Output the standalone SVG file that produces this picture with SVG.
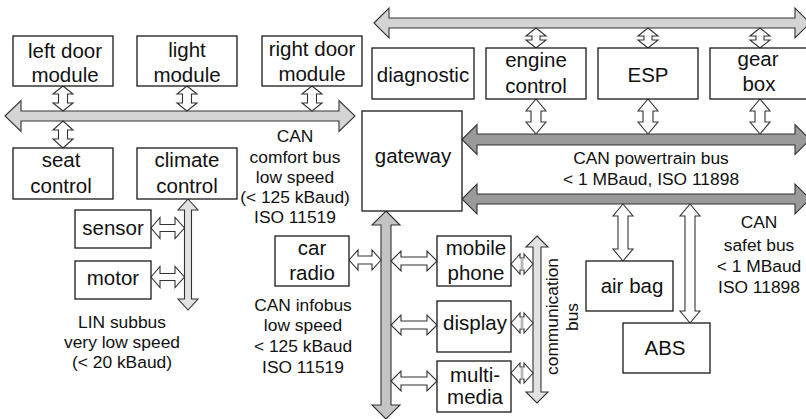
<svg xmlns="http://www.w3.org/2000/svg" width="806" height="419" viewBox="0 0 806 419">
<style>
.box{fill:#fff;stroke:#1a1a1a;stroke-width:1.3}
.t{font-family:"Liberation Sans",Arial,sans-serif;font-size:20.5px;text-anchor:middle;fill:#111}
.a{font-family:"Liberation Sans",Arial,sans-serif;font-size:17.4px;text-anchor:middle;fill:#111}
.arw{fill:#fff;stroke:#333;stroke-width:1.1;stroke-linejoin:miter}
.busL{fill:#d4d4d4;stroke:#333;stroke-width:1.1}
.busG{fill:#c4c4c4;stroke:#333;stroke-width:1.1}
.busX{fill:#e2e2e2;stroke:#333;stroke-width:1.1}
.busD{fill:#9a9a9a;stroke:#333;stroke-width:1.1}
.sh{fill:#b8b8b8;stroke:none}
</style>
<rect width="806" height="419" fill="#fff"/>
<g id="connectors">
  <!-- buses -->
  <polygon class="busL" points="5,116 21,100.5 21,111 339,111 339,100.5 355,116 339,131.5 339,121 21,121 21,131.5"/>
  <polygon class="busL" points="374,23 389,8 389,18 795,18 795,8 810,23 795,38 795,28 389,28 389,38"/>
  <polygon class="busD" points="462,139.5 477,124.5 477,134 795,134 795,124.5 810,139.5 795,154.5 795,145 477,145 477,154.5"/>
  <polygon class="busD" points="462,199 477,184 477,194 795,194 795,184 810,199 795,214 795,204 477,204 477,214"/>
  <polygon class="busG" points="386,211 400,225 391,225 391,405 400,405 386,419 372,405 381,405 381,225 372,225"/>
  <polygon class="busX" points="188,199 198,210 191.5,210 191.5,299 198,299 188,310 178,299 184.5,299 184.5,210 178,210"/>
  <polygon class="busX" points="537,236 548,247 541,247 541,392 548,392 537,403 526,392 533,392 533,247 526,247"/>
  <!-- comfort bus small arrows -->
  <polygon class="arw" points="63,86 73,94 67.5,94 67.5,103 73,103 63,111 53,103 58.5,103 58.5,94 53,94"/>
  <polygon class="arw" points="187,86 197,94 191.5,94 191.5,103 197,103 187,111 177,103 182.5,103 182.5,94 177,94"/>
  <polygon class="arw" points="312,86 322,94 316.5,94 316.5,103 322,103 312,111 302,103 307.5,103 307.5,94 302,94"/>
  <polygon class="arw" points="63,121 73,130 67.5,130 67.5,139 73,139 63,148 53,139 58.5,139 58.5,130 53,130"/>
  <!-- top bus small arrows -->
  <polygon class="arw" points="536,28 546,36 540,36 540,40 546,40 536,48 526,40 532,40 532,36 526,36"/>
  <polygon class="arw" points="648,28 658,36 652,36 652,40 658,40 648,48 638,40 644,40 644,36 638,36"/>
  <polygon class="arw" points="760,28 770,36 764,36 764,40 770,40 760,48 750,40 756,40 756,36 750,36"/>
  <!-- powertrain arrows -->
  <polygon class="arw" points="536,99 546,111 541,111 541,122 546,122 536,134 526,122 531,122 531,111 526,111"/>
  <polygon class="arw" points="648,99 658,111 653,111 653,122 658,122 648,134 638,122 643,122 643,111 638,111"/>
  <polygon class="arw" points="760,99 770,111 765,111 765,122 770,122 760,134 750,122 755,122 755,111 750,111"/>
  <!-- safety bus arrows -->
  <polygon class="arw" points="623,204 633,216 628,216 628,249 633,249 623,261 613,249 618,249 618,216 613,216"/>
  <polygon class="arw" points="690,204 700,216 695,216 695,311 700,311 690,323 680,311 685,311 685,216 680,216"/>
  <!-- LIN arrows -->
  <polygon class="arw" points="151,228 160,217.5 160,224.5 175,224.5 175,217.5 184.5,228 175,238.5 175,231.5 160,231.5 160,238.5"/>
  <polygon class="arw" points="151,277 160,266.5 160,273.5 175,273.5 175,266.5 184.5,277 175,287.5 175,280.5 160,280.5 160,287.5"/>
  <!-- infobus arrows -->
  <polygon class="arw" points="349,260 358,250 358,256 372,256 372,250 381,260 372,270 372,264 358,264 358,270"/>
  <polygon class="arw" points="391,261 401,251 401,257 427,257 427,251 437,261 427,271 427,265 401,265 401,271"/>
  <polygon class="arw" points="391,325 401,315 401,321 427,321 427,315 437,325 427,335 427,329 401,329 401,335"/>
  <polygon class="arw" points="391,381 401,371 401,377 427,377 427,371 437,381 427,391 427,385 401,385 401,391"/>
  <!-- communication bus small arrows -->
  <polygon class="arw" points="511,264 520,254 520,258 524,258 524,254 533,264 524,274 524,270 520,270 520,274"/>
  <rect class="sh" x="520.6" y="258.6" width="2.8" height="10.8"/>
  <polygon class="arw" points="511,323 520,313 520,317 524,317 524,313 533,323 524,333 524,329 520,329 520,333"/>
  <rect class="sh" x="520.6" y="317.6" width="2.8" height="10.8"/>
  <polygon class="arw" points="511,373 520,363 520,367 524,367 524,363 533,373 524,383 524,379 520,379 520,383"/>
  <rect class="sh" x="520.6" y="367.6" width="2.8" height="10.8"/>
</g>
<g id="left-door-module"><rect class="box" x="13" y="36" width="100" height="50"/><text class="t" x="65" y="58">left door</text><text class="t" x="65" y="82">module</text></g>
<g id="light-module"><rect class="box" x="137" y="36" width="100" height="50"/><text class="t" x="187" y="57">light</text><text class="t" x="187" y="82">module</text></g>
<g id="right-door-module"><rect class="box" x="262" y="36" width="100" height="50"/><text class="t" x="312" y="56">right door</text><text class="t" x="312" y="81">module</text></g>
<g id="seat-control"><rect class="box" x="13" y="148" width="100" height="51"/><text class="t" x="61" y="167">seat</text><text class="t" x="61" y="193">control</text></g>
<g id="climate-control"><rect class="box" x="137" y="148" width="100" height="51"/><text class="t" x="187" y="167">climate</text><text class="t" x="187" y="193">control</text></g>
<g id="gateway"><rect class="box" x="362" y="111" width="100" height="100"/><text class="t" x="413" y="163">gateway</text></g>
<g id="diagnostic"><rect class="box" x="372" y="48" width="102" height="51"/><text class="t" x="423" y="82">diagnostic</text></g>
<g id="engine-control"><rect class="box" x="486" y="48" width="100" height="51"/><text class="t" x="536" y="67">engine</text><text class="t" x="536" y="93">control</text></g>
<g id="esp"><rect class="box" x="598" y="48" width="100" height="51"/><text class="t" x="648" y="82">ESP</text></g>
<g id="gear-box"><rect class="box" x="710" y="48" width="100" height="51"/><text class="t" x="758" y="66">gear</text><text class="t" x="759" y="91">box</text></g>
<g id="sensor"><rect class="box" x="75" y="210" width="76" height="38"/><text class="t" x="113" y="235">sensor</text></g>
<g id="motor"><rect class="box" x="75" y="261" width="76" height="38"/><text class="t" x="113" y="285">motor</text></g>
<g id="car-radio"><rect class="box" x="275" y="236" width="74" height="50"/><text class="t" x="312" y="255">car</text><text class="t" x="312" y="280">radio</text></g>
<g id="mobile-phone"><rect class="box" x="437" y="236" width="74" height="50"/><text class="t" x="476" y="255">mobile</text><text class="t" x="476" y="280">phone</text></g>
<g id="display"><rect class="box" x="437" y="301" width="74" height="51"/><text class="t" x="475" y="330">display</text></g>
<g id="multi-media"><rect class="box" x="437" y="361" width="74" height="51"/><text class="t" x="475" y="382">multi-</text><text class="t" x="475" y="404">media</text></g>
<g id="air-bag"><rect class="box" x="586" y="261" width="87" height="50"/><text class="t" x="632" y="293">air bag</text></g>
<g id="abs"><rect class="box" x="623" y="323" width="87" height="50"/><text class="t" x="665" y="355">ABS</text></g>
<g id="labels">
  <text class="a" x="295" y="142">CAN</text>
  <text class="a" x="295" y="163">comfort bus</text>
  <text class="a" x="295" y="183">low speed</text>
  <text class="a" x="295" y="203">(&lt; 125 kBaud)</text>
  <text class="a" x="295" y="223">ISO 11519</text>
  <text class="a" x="651" y="164">CAN powertrain bus</text>
  <text class="a" x="651" y="185">&lt; 1 MBaud, ISO 11898</text>
  <text class="a" x="759" y="228">CAN</text>
  <text class="a" x="759" y="251">safet bus</text>
  <text class="a" x="759" y="272">&lt; 1 MBaud</text>
  <text class="a" x="759" y="293">ISO 11898</text>
  <text class="a" x="122" y="328">LIN subbus</text>
  <text class="a" x="122" y="348">very low speed</text>
  <text class="a" x="122" y="368">(&lt; 20 kBaud)</text>
  <text class="a" x="303" y="311">CAN infobus</text>
  <text class="a" x="303" y="331">low speed</text>
  <text class="a" x="303" y="352">&lt; 125 kBaud</text>
  <text class="a" x="303" y="373">ISO 11519</text>
  <text class="a" transform="translate(557.5,316.5) rotate(-90)">communication</text>
  <text class="a" transform="translate(578,317) rotate(-90)">bus</text>
</g>
</svg>
